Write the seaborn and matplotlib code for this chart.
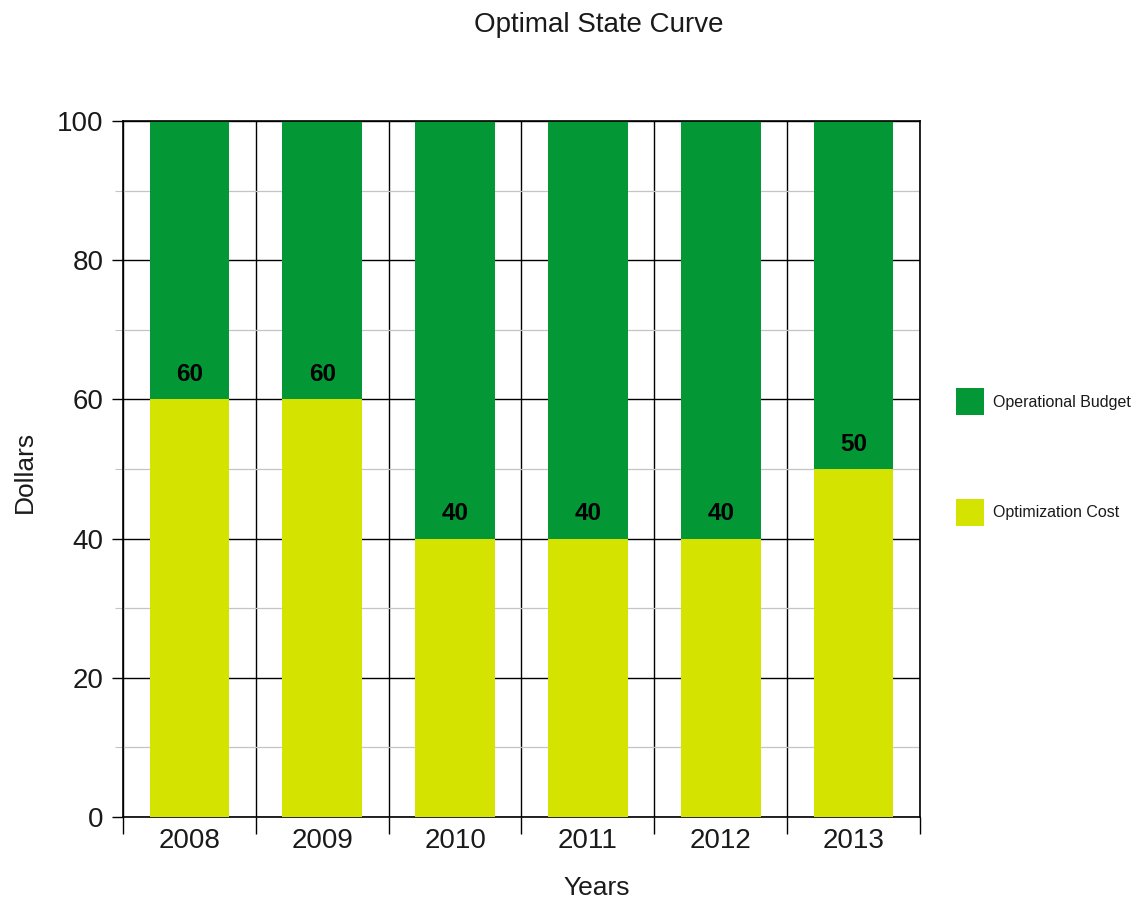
import matplotlib
matplotlib.use("Agg")
import matplotlib.pyplot as plt
import seaborn as sns
import pandas as pd
import numpy as np
from matplotlib.patches import Patch
from matplotlib.ticker import MultipleLocator, FixedLocator

years = ["2008", "2009", "2010", "2011", "2012", "2013"]
optimization_cost = [60, 60, 40, 40, 40, 50]
operational_budget = [40, 40, 60, 60, 60, 50]
series_names = ["Operational Budget", "Optimization Cost"]
y_ticks = [0, 20, 40, 60, 80, 100]

GREEN = "#039835"
YELLOW = "#d4e300"
TXT = "#1a1a1a"

sns.set_theme(style="white")
plt.rcParams['font.family'] = ['Liberation Sans', 'DejaVu Sans']
plt.rcParams['text.color'] = TXT
plt.rcParams['xtick.color'] = TXT
plt.rcParams['ytick.color'] = TXT

df = pd.DataFrame({
    "Year": years,
    "Cost": optimization_cost,
    "Total": [c + b for c, b in zip(optimization_cost, operational_budget)],
})

fig = plt.figure(figsize=(11.36, 9.02), dpi=100)
ax = fig.add_axes([123/1136, 1-817/902, (920-123)/1136, (817-121)/902])

sns.barplot(data=df, x="Year", y="Total", color=GREEN, width=0.6, ax=ax,
            saturation=1, linewidth=0, zorder=2)
sns.barplot(data=df, x="Year", y="Cost", color=YELLOW, width=0.6, ax=ax,
            saturation=1, linewidth=0, zorder=3)

for i, v in enumerate(optimization_cost):
    ax.text(i, v + 1.9, str(v), ha="center", va="bottom", fontsize=17.5,
            fontweight="bold", color="black", zorder=5)

n = len(years)
ax.set_xlim(-0.5, n - 0.5)
ax.set_ylim(0, 100)
ax.set_yticks(y_ticks)
ax.yaxis.set_minor_locator(MultipleLocator(10))
ax.xaxis.set_minor_locator(FixedLocator(np.arange(-0.5, n, 1.0)))

ax.grid(which="major", axis="y", color="black", linewidth=1.0, zorder=0)
ax.grid(which="minor", axis="y", color="#c4c4c4", linewidth=0.9, zorder=0)
ax.grid(which="minor", axis="x", color="black", linewidth=1.0, zorder=0)
ax.set_axisbelow(True)

ax.tick_params(axis="y", which="major", direction="out", length=8, width=1,
               color="black", labelsize=20, left=True, pad=6)
ax.tick_params(axis="y", which="minor", direction="out", length=6, width=0.8,
               color="#c4c4c4", left=True)
ax.tick_params(axis="x", which="major", length=0, labelsize=20, pad=8)
ax.tick_params(axis="x", which="minor", direction="out", length=12, width=1,
               color="black", bottom=True)

for s in ax.spines.values():
    s.set_visible(True)
    s.set_color("black")
    s.set_linewidth(1.2)

ax.set_xlabel("")
ax.set_ylabel("")
fig.text(597/1136, 1-888/902, "Years", ha="center", va="center", fontsize=19)
fig.text(25/1136, 1-472/902, "Dollars", ha="center", va="center",
         rotation=90, fontsize=19)
fig.text(599/1136, 1-25/902, "Optimal State Curve", ha="center", va="center",
         fontsize=20)

handles = [Patch(facecolor=GREEN, edgecolor="none"),
           Patch(facecolor=YELLOW, edgecolor="none")]
fig.legend(handles, series_names, loc="center left",
           bbox_to_anchor=(951/1136, 1-457/902), frameon=False, fontsize=11.5,
           handlelength=1.77, handleheight=2.3, labelspacing=5.2,
           handletextpad=0.55, borderaxespad=0, borderpad=0.3)

fig.savefig("out.png", dpi=100)
